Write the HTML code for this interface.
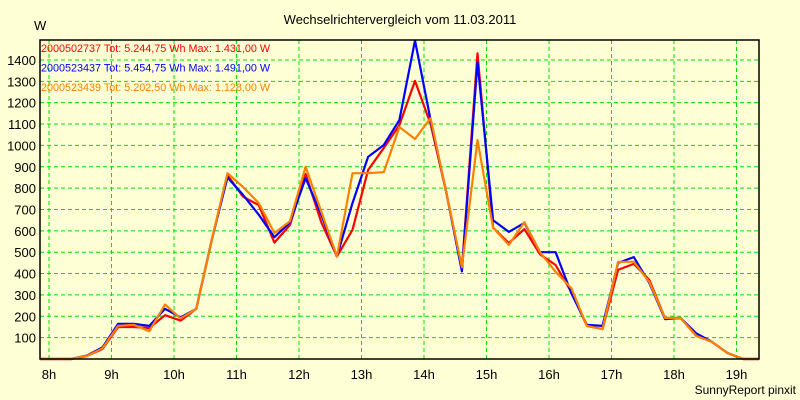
<!DOCTYPE html>
<html><head><meta charset="utf-8">
<style>
html,body{margin:0;padding:0;background:#ffffd6;}
svg{display:block;font-family:"Liberation Sans",sans-serif;}
</style></head>
<body>
<svg id="chart" width="800" height="400" viewBox="0 0 800 400">
<rect x="0" y="0" width="800" height="400" fill="#ffffd6"/>
<text x="400" y="24" font-size="13" text-anchor="middle" fill="#000">Wechselrichtervergleich vom 11.03.2011</text>
<text x="34" y="30" font-size="13" fill="#000">W</text>
<g id="grid"></g>
<g id="yticks"></g>
<g id="xticks"></g>
<g id="series"></g>
<rect x="40" y="40" width="719" height="319" fill="none" stroke="#000" stroke-width="1.5"/>
<g id="legend"></g>
<text x="796" y="394" font-size="12" text-anchor="end" fill="#000">SunnyReport pinxit</text>
</svg>
<script>
const hourTicks = [8,9,10,11,12,13,14,15,16,17,18,19];
const hourLabels = ["8h","9h","10h","11h","12h","13h","14h","15h","16h","17h","18h","19h"];
const yTicks = [100,200,300,400,500,600,700,800,900,1000,1100,1200,1300,1400];
const startHour = 7.856;
const stepHour = 0.25;
const seriesRed = [0,0,0,14,47,150,150,145,205,180,235,560,860,760,720,545,628,866,640,480,605,885,988,1095,1302,1100,780,420,1431,614,543,608,490,440,314,155,140,417,445,370,192,192,108,80,28,0,0];
const seriesBlue = [0,0,0,16,55,165,165,155,235,195,235,560,850,768,675,570,640,847,675,480,730,946,1002,1119,1491,1119,780,410,1390,650,595,637,500,500,308,160,155,450,477,355,187,192,120,80,28,0,0];
const seriesOrange = [0,0,0,14,50,155,160,130,255,190,235,560,870,805,730,590,645,900,690,480,870,870,875,1086,1030,1128,780,430,1025,614,534,641,500,408,332,155,140,455,455,360,192,192,108,80,28,0,0];
const legendTexts = ["2000502737 Tot: 5.244,75 Wh Max: 1.431,00 W","2000523437 Tot: 5.454,75 Wh Max: 1.491,00 W","2000523439 Tot: 5.202,50 Wh Max: 1.128,00 W"];
const seriesColors = ["#ff0000","#0000ff","#ff8000"];

const NS="http://www.w3.org/2000/svg";
function xScale(h){return 49 + (h-8)*62.5;}
function yScale(v){return 359 - v*0.2136;}
function mk(tag,attrs,parent){const e=document.createElementNS(NS,tag);for(const k in attrs)e.setAttribute(k,attrs[k]);parent.appendChild(e);return e;}

const grid=document.getElementById('grid');
hourTicks.forEach(h=>{
  const l=mk('line',{x1:xScale(h),x2:xScale(h),y1:40,y2:359,stroke:'#00e000','stroke-width':1,'stroke-dasharray':'4,3'},grid);
  
  
});
yTicks.forEach(v=>{
  const l=mk('line',{x1:40,x2:759,y1:yScale(v),y2:yScale(v),stroke:'#00e000','stroke-width':1,'stroke-dasharray':'4,3'},grid);
  
  
});
const yt=document.getElementById('yticks');
yTicks.forEach(v=>{
  const t=mk('text',{x:36,y:yScale(v)+5,'font-size':13,'text-anchor':'end',fill:'#000'},yt);
  t.textContent=v;
  
  
});
const xt=document.getElementById('xticks');
hourTicks.forEach((h,i)=>{
  const t=mk('text',{x:xScale(h),y:379,'font-size':13,'text-anchor':'middle',fill:'#000'},xt);
  t.textContent=hourLabels[i];
  
  
});
const sg=document.getElementById('series');
const names=['series-2000502737','series-2000523437','series-2000523439'];
[seriesRed,seriesBlue,seriesOrange].forEach((s,i)=>{
  const pts=s.map((v,k)=>xScale(startHour+k*stepHour).toFixed(1)+','+yScale(v).toFixed(1)).join(' ');
  const p=mk('polyline',{points:pts,fill:'none',stroke:seriesColors[i],'stroke-width':2.2,'stroke-linejoin':'round'},sg);
  
  
});
const lg=document.getElementById('legend');
legendTexts.forEach((txt,i)=>{
  const t=mk('text',{x:41,y:52+i*19.5,'font-size':10.8,fill:seriesColors[i]},lg);
  t.textContent=txt;
  
  
});
</script>
</body></html>
